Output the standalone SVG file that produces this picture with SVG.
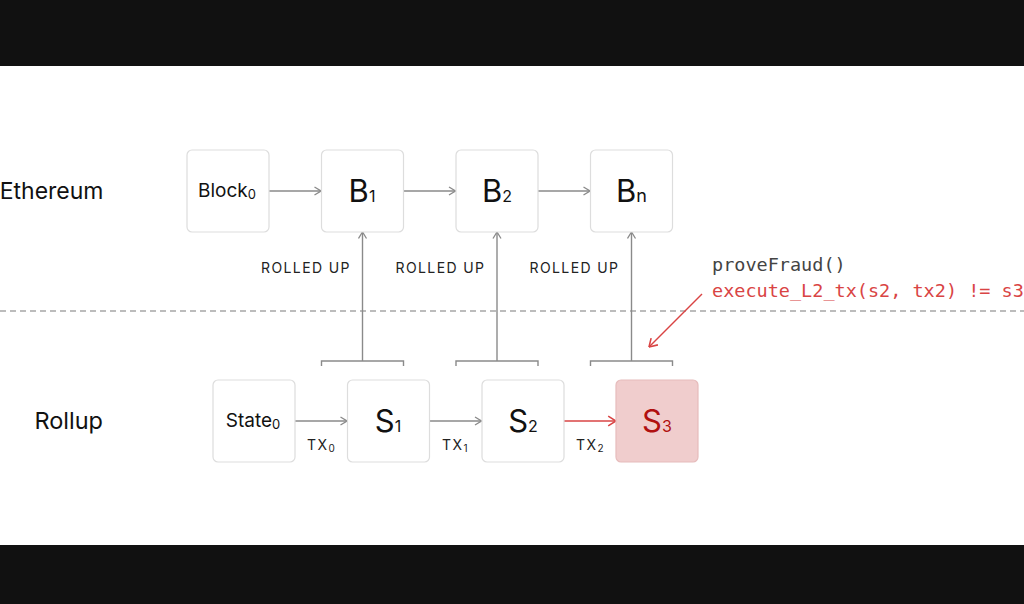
<svg xmlns="http://www.w3.org/2000/svg" width="1024" height="604" viewBox="0 0 1024 604">
<style>
.box{fill:#ffffff;stroke:#dddddd;stroke-width:1.2}
.bad{fill:#f0cdcd;stroke:#e6bcbc;stroke-width:1.2}
.lab{font-family:Inter,"Liberation Sans",sans-serif;fill:#111111}
.big{font-family:Inter,"Liberation Sans",sans-serif;font-size:31px;fill:#111111;text-anchor:middle}
.mid{font-family:Inter,"Liberation Sans",sans-serif;font-size:19px;fill:#111111;text-anchor:middle}
.small{font-family:Inter,"Liberation Sans",sans-serif;font-size:14px;fill:#222222;letter-spacing:1.4px}
.code{font-family:"DejaVu Sans Mono","Liberation Mono",monospace;font-size:18.5px}
.con{stroke:#8a8a8a;stroke-width:1.4;fill:none}
.red{stroke:#d94444;stroke-width:1.4;fill:none}
</style>
<defs>
<marker id="ah" viewBox="0 0 10 10" refX="9.5" refY="5" markerWidth="10" markerHeight="10" markerUnits="userSpaceOnUse" orient="auto">
<path d="M3,1 L9.5,5 L3,9" fill="none" stroke="#8a8a8a" stroke-width="1.3"/>
</marker>
<marker id="ahr" viewBox="0 0 10 10" refX="9.5" refY="5" markerWidth="12" markerHeight="12" markerUnits="userSpaceOnUse" orient="auto">
<path d="M3,1 L9.5,5 L3,9" fill="none" stroke="#d94444" stroke-width="1.3"/>
</marker>
</defs>
<rect x="0" y="0" width="1024" height="604" fill="#ffffff"/>
<rect x="0" y="0" width="1024" height="66" fill="#111111"/>
<rect x="0" y="545" width="1024" height="59" fill="#111111"/>

<line x1="0" y1="311" x2="1024" y2="311" stroke="#7a7a7a" stroke-width="1.2" stroke-dasharray="6,4"/>

<text class="lab" x="103.5" y="199" font-size="23" text-anchor="end">Ethereum</text>
<text class="lab" x="103" y="429" font-size="23.5" text-anchor="end">Rollup</text>

<g id="connectors">
<line class="con" x1="269" y1="191" x2="321" y2="191" marker-end="url(#ah)"/>
<line class="con" x1="403.5" y1="191" x2="455.5" y2="191" marker-end="url(#ah)"/>
<line class="con" x1="538" y1="191" x2="590" y2="191" marker-end="url(#ah)"/>
<line class="con" x1="295" y1="421" x2="347" y2="421" marker-end="url(#ah)"/>
<line class="con" x1="429.5" y1="421" x2="481.5" y2="421" marker-end="url(#ah)"/>
<line class="red" x1="564" y1="421" x2="616" y2="421" marker-end="url(#ahr)"/>
<path class="con" d="M321.5 366 V361 H403.5 V366"/>
<path class="con" d="M456 366 V361 H538 V366"/>
<path class="con" d="M590.5 366 V361 H672.5 V366"/>
<line class="con" x1="362.5" y1="361" x2="362.5" y2="232" marker-end="url(#ah)"/>
<line class="con" x1="497" y1="361" x2="497" y2="232" marker-end="url(#ah)"/>
<line class="con" x1="631.5" y1="361" x2="631.5" y2="232" marker-end="url(#ah)"/>
<line class="red" x1="702" y1="294" x2="649" y2="347" marker-end="url(#ahr)"/>
<text class="small" x="261" y="273">ROLLED UP</text>
<text class="small" x="395.5" y="273">ROLLED UP</text>
<text class="small" x="529.5" y="273">ROLLED UP</text>
<text class="small" x="307" y="450">TX<tspan font-size="10" dy="2">0</tspan></text>
<text class="small" x="442" y="450">TX<tspan font-size="10" dy="2">1</tspan></text>
<text class="small" x="576" y="450">TX<tspan font-size="10" dy="2">2</tspan></text>
</g>

<g id="block0">
<rect class="box" x="187" y="150" width="82" height="82" rx="5"/>
<text class="mid" x="227" y="197">Block<tspan font-size="13" dy="2">0</tspan></text>
</g>
<g id="b1">
<rect class="box" x="321.5" y="150" width="82" height="82" rx="5"/>
<text class="big" x="362" y="202">B<tspan font-size="16">1</tspan></text>
</g>
<g id="b2">
<rect class="box" x="456" y="150" width="82" height="82" rx="5"/>
<text class="big" x="497" y="202">B<tspan font-size="16">2</tspan></text>
</g>
<g id="bn">
<rect class="box" x="590.5" y="150" width="82" height="82" rx="5"/>
<text class="big" x="631.5" y="202">B<tspan font-size="18">n</tspan></text>
</g>

<g id="state0">
<rect class="box" x="213" y="380" width="82" height="82" rx="5"/>
<text class="mid" x="253" y="427">State<tspan font-size="13" dy="2">0</tspan></text>
</g>
<g id="s1">
<rect class="box" x="347.5" y="380" width="82" height="82" rx="5"/>
<text class="big" x="388" y="432">S<tspan font-size="16">1</tspan></text>
</g>
<g id="s2">
<rect class="box" x="482" y="380" width="82" height="82" rx="5"/>
<text class="big" x="523" y="432">S<tspan font-size="16">2</tspan></text>
</g>
<g id="s3">
<rect class="bad" x="616" y="380" width="82" height="82" rx="5"/>
<text class="big" x="657" y="432" style="fill:#b01010">S<tspan font-size="16">3</tspan></text>
</g>

<g id="fraud-note">
<text class="code" x="712" y="271" fill="#444444">proveFraud()</text>
<text class="code" x="712" y="297" fill="#d94444">execute_L2_tx(s2, tx2) != s3</text>
</g>
</svg>
